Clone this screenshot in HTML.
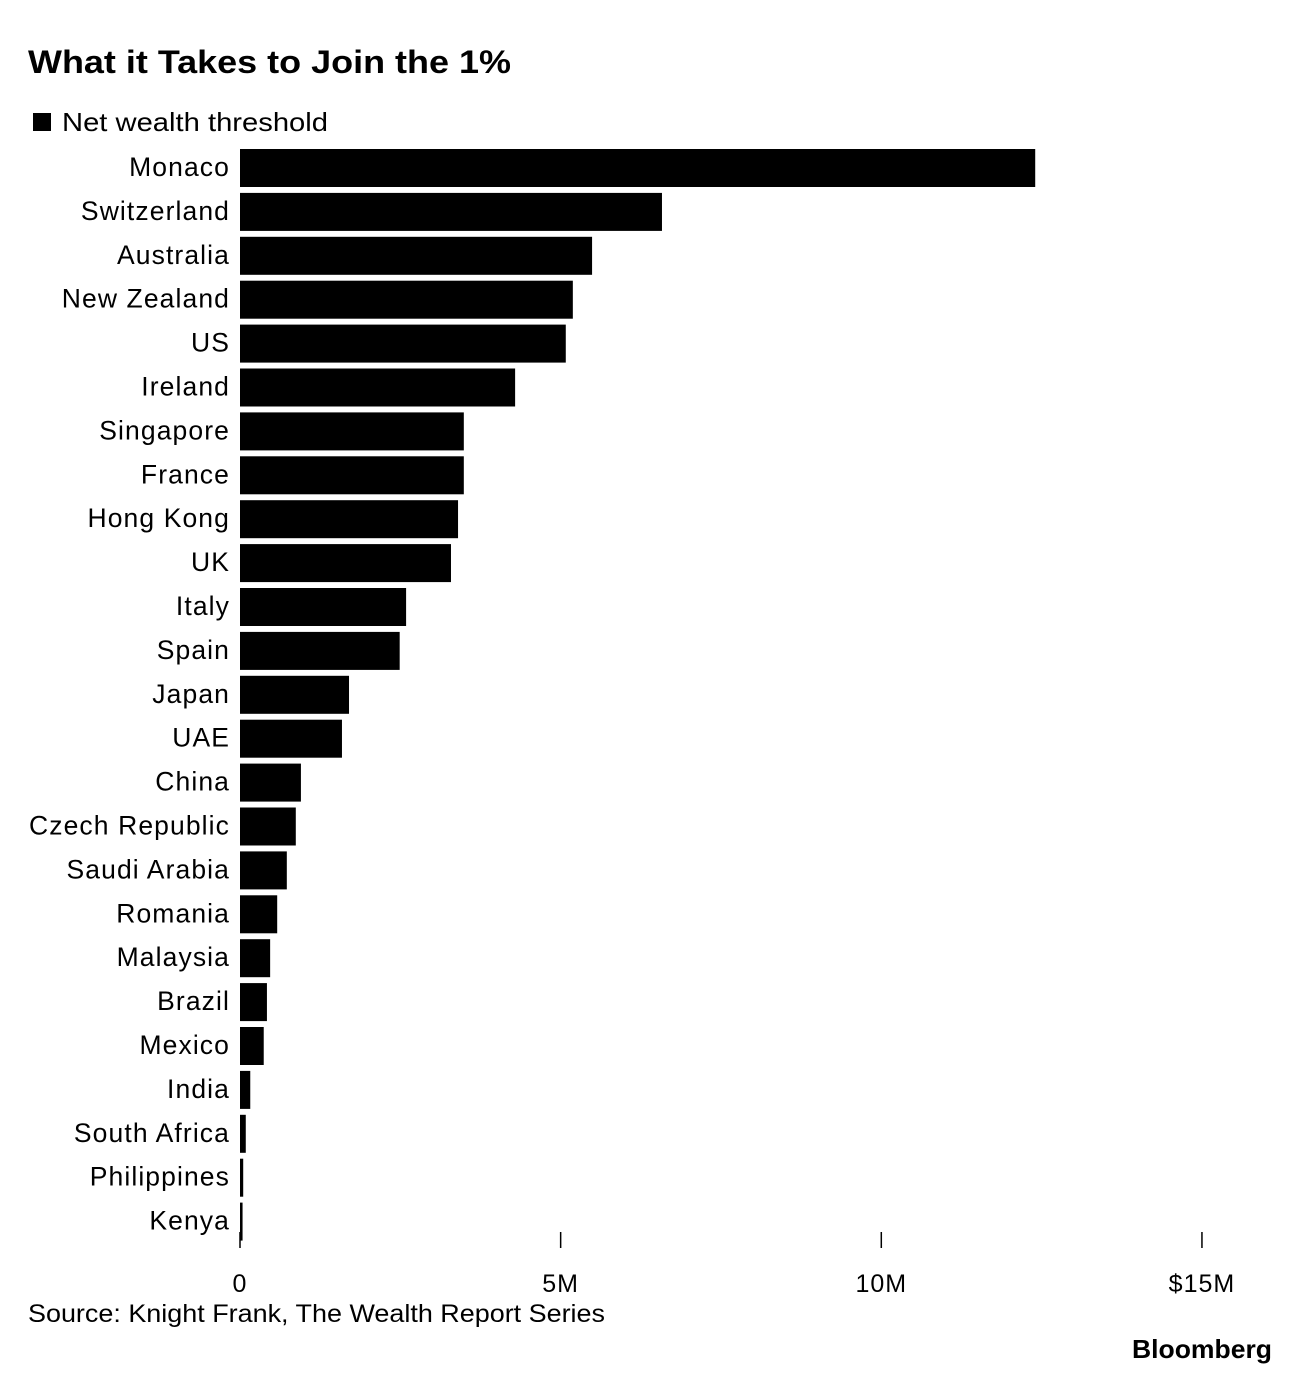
<!DOCTYPE html>
<html><head><meta charset="utf-8"><style>
body{margin:0;background:#fff;font-family:"Liberation Sans",sans-serif;}
</style></head><body>
<svg width="1296" height="1382" xmlns="http://www.w3.org/2000/svg" font-family="Liberation Sans, sans-serif">
<text x="28" y="73" font-size="32" font-weight="bold" textLength="483" lengthAdjust="spacingAndGlyphs">What it Takes to Join the 1%</text>
<rect x="33" y="113" width="18" height="18" fill="#000"/>
<text x="62" y="131" font-size="26" textLength="266" lengthAdjust="spacingAndGlyphs">Net wealth threshold</text>
<g id="bars"></g>
<g id="axis"></g>
<text x="28" y="1322" font-size="25" textLength="577" lengthAdjust="spacingAndGlyphs">Source: Knight Frank, The Wealth Report Series</text>
<text x="1132" y="1358" font-size="26" font-weight="bold" textLength="140" lengthAdjust="spacingAndGlyphs">Bloomberg</text>
</svg>
<script>
const categories=["Monaco","Switzerland","Australia","New Zealand","US","Ireland","Singapore","France","Hong Kong","UK","Italy","Spain","Japan","UAE","China","Czech Republic","Saudi Arabia","Romania","Malaysia","Brazil","Mexico","India","South Africa","Philippines","Kenya"];
const values=[12.4,6.58,5.49,5.19,5.08,4.29,3.49,3.49,3.40,3.29,2.59,2.49,1.70,1.59,0.95,0.87,0.73,0.58,0.47,0.42,0.37,0.16,0.09,0.05,0.04];
const tickValues=[0,5,10,15];
const tickLabels=["0","5M","10M","$15M"];
const NS="http://www.w3.org/2000/svg";
const x=v=>240+v*64.13;
const y=i=>149+i*43.9;
const bars=document.getElementById('bars');
categories.forEach((c,i)=>{
  const r=document.createElementNS(NS,'rect');
  r.setAttribute('x',x(0));r.setAttribute('y',y(i));
  r.setAttribute('width',Math.max(2,x(values[i])-x(0)));r.setAttribute('height',38);r.setAttribute('fill','#000');
  
  
  bars.appendChild(r);
  const t=document.createElementNS(NS,'text');
  t.setAttribute('x',230);t.setAttribute('y',y(i)+27);t.setAttribute('font-size','26.5');t.setAttribute('text-anchor','end');
  t.setAttribute('letter-spacing','1.1');
  t.textContent=c;
  
  
  bars.appendChild(t);
});
const ax=document.getElementById('axis');
tickValues.forEach((v,i)=>{
  const l=document.createElementNS(NS,'line');
  l.setAttribute('x1',x(v));l.setAttribute('x2',x(v));l.setAttribute('y1',1232);l.setAttribute('y2',1248);
  l.setAttribute('stroke','#000');l.setAttribute('stroke-width','1.5');
  
  
  ax.appendChild(l);
  const t=document.createElementNS(NS,'text');
  t.setAttribute('x',x(v));t.setAttribute('y',1292);t.setAttribute('font-size','25');t.setAttribute('text-anchor','middle');
  t.setAttribute('letter-spacing','1');
  t.textContent=tickLabels[i];
  
  
  ax.appendChild(t);
});
</script>
</body></html>
